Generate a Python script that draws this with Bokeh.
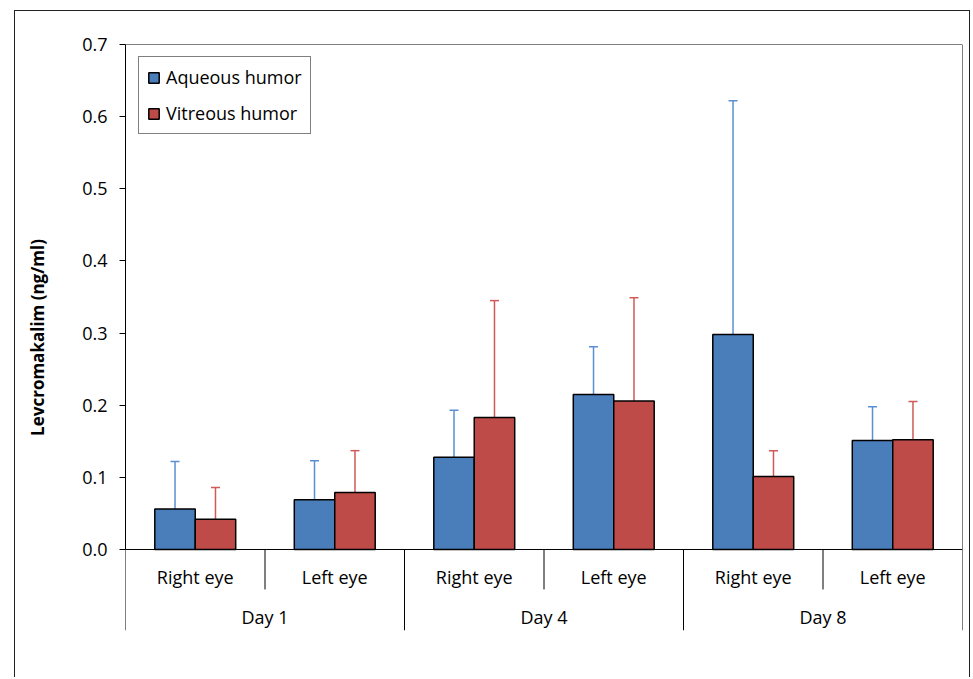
from bokeh.plotting import figure
from bokeh.models import (Range1d, FixedTicker, PrintfTickFormatter, Span, ColumnDataSource,
                          Whisker, TeeHead, Legend, LegendItem)
from bokeh.core.properties import value
from bokeh.embed import file_html
from bokeh.resources import INLINE

# ---- data ----
days = ["Day 1", "Day 4", "Day 8"]
eyes = ["Right eye", "Left eye"]
aqueous_mean = [0.056, 0.069, 0.128, 0.215, 0.298, 0.151]
aqueous_sd = [0.066, 0.054, 0.065, 0.066, 0.324, 0.047]
vitreous_mean = [0.042, 0.079, 0.183, 0.206, 0.101, 0.152]
vitreous_sd = [0.044, 0.058, 0.162, 0.143, 0.036, 0.053]
y_ticks = [0.0, 0.1, 0.2, 0.3, 0.4, 0.5, 0.6, 0.7]
series_names = ["Aqueous humor", "Vitreous humor"]
series_colors = ["#4A7EBB", "#BE4B48"]
error_colors = ["#5B8FD3", "#D05A57"]

FONT = "Open Sans"

# category layout (numeric positions derived from the category lists)
categories = [(d, e) for d in days for e in eyes]
n_cat = len(categories)
centers = [i + 0.5 for i in range(n_cat)]
day_centers = [len(eyes) * j + len(eyes) / 2 for j in range(len(days))]
bar_w = 0.29
offsets = [-bar_w / 2, bar_w / 2]

y_bottom = -0.1123
y_top = 0.7

p = figure(width=956, height=667, x_range=Range1d(0, n_cat), y_range=Range1d(y_bottom, y_top),
           output_backend="svg", toolbar_location=None, x_axis_location=None,
           min_border_left=110, min_border_right=9, min_border_top=33, min_border_bottom=48)
p.styles = {"margin-left": "14px", "margin-top": "10px",
            "border-left": "1px solid #222", "border-top": "1px solid #222",
            "border-right": "1px solid #222"}
p.xgrid.visible = False
p.ygrid.visible = False
p.outline_line_color = None
p.background_fill_color = "white"
p.border_fill_color = "white"

# y axis
ya = p.yaxis[0]
ya.bounds = (0, y_top)
ya.ticker = FixedTicker(ticks=y_ticks)
ya.formatter = PrintfTickFormatter(format="%.1f")
ya.minor_tick_line_color = None
ya.major_tick_in = 0
ya.major_tick_out = 6
ya.major_tick_line_color = "black"
ya.axis_line_color = "black"
ya.major_label_standoff = 12
ya.major_label_text_font = FONT
ya.major_label_text_font_size = "18px"
ya.major_label_text_color = "black"
ya.axis_label = "Levcromakalim (ng/ml)"
ya.axis_label_text_font = FONT
ya.axis_label_text_font_size = "17px"
ya.axis_label_text_font_style = "bold"
ya.axis_label_text_color = "black"
ya.axis_label_standoff = 30

# bars
renderers = []
for s, (means, col) in enumerate([(aqueous_mean, series_colors[0]), (vitreous_mean, series_colors[1])]):
    xs = [c + offsets[s] for c in centers]
    r = p.vbar(x=xs, top=means, bottom=0, width=bar_w, fill_color=col,
               line_color="black", line_width=1.5)
    renderers.append(r)

# error bars (upper only)
for s, (means, sds) in enumerate([(aqueous_mean, aqueous_sd), (vitreous_mean, vitreous_sd)]):
    xs = [c + offsets[s] for c in centers]
    src = ColumnDataSource(dict(base=xs, lower=means, upper=[m + d for m, d in zip(means, sds)]))
    w = Whisker(source=src, base="base", lower="lower", upper="upper", dimension="height",
                line_color=error_colors[s], line_width=1.5,
                upper_head=TeeHead(size=9, line_color=error_colors[s], line_width=1.5),
                lower_head=None)
    p.add_layout(w)

# frame lines: top, zero, left, right
for loc in [y_top, 0]:
    p.add_layout(Span(location=loc, dimension="width", line_color="black", line_width=1))
for loc in [0, n_cat]:
    p.add_layout(Span(location=loc, dimension="height", line_color="black", line_width=1))

# category axis separators
sub_sep_x = [len(eyes) * j + k for j in range(len(days)) for k in range(1, len(eyes))]
grp_sep_x = [len(eyes) * j for j in range(1, len(days))]
p.segment(x0=sub_sep_x, y0=0, x1=sub_sep_x, y1=-0.0554, line_color="black", line_width=1)
p.segment(x0=grp_sep_x, y0=0, x1=grp_sep_x, y1=y_bottom, line_color="black", line_width=1)

# category labels
p.text(x=centers, y=-0.0388, text=[e for (_, e) in categories], text_align="center",
       text_baseline="middle", text_font=value(FONT), text_font_size="18px", text_color="black")
p.text(x=day_centers, y=-0.0930, text=days, text_align="center",
       text_baseline="middle", text_font=value(FONT), text_font_size="18px", text_color="black")

legend = Legend(items=[LegendItem(label=series_names[i], renderers=[renderers[i]]) for i in range(2)],
                location=(13, 496), border_line_color="black", border_line_width=1,
                background_fill_color="white", background_fill_alpha=1.0,
                label_text_font=FONT, label_text_font_size="18px", label_text_color="black",
                glyph_width=13, glyph_height=13, label_height=20, label_standoff=6,
                spacing=12, padding=8, margin=0)
p.add_layout(legend)

open("out.html", "w").write(file_html(p, INLINE))
